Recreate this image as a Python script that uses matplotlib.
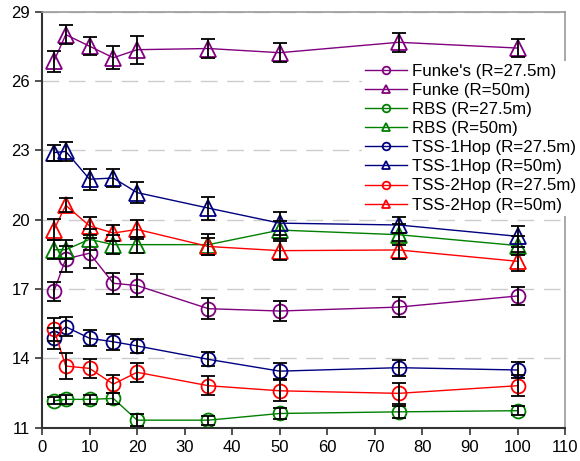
import matplotlib
matplotlib.use('Agg')
import matplotlib.pyplot as plt

plt.rcParams['font.family'] = ['Liberation Sans', 'DejaVu Sans']

# distances
x = [2.5, 5, 10, 15, 20, 35, 50, 75, 100]

# series values (mean) and error bar half-widths
funkes_275 = [16.9, 18.3, 18.55, 17.25, 17.15, 16.15, 16.05, 16.22, 16.7]
funkes_275_err = [0.4, 0.55, 0.65, 0.45, 0.5, 0.45, 0.45, 0.45, 0.4]
funke_50 = [26.85, 28.0, 27.5, 27.0, 27.35, 27.4, 27.22, 27.67, 27.42]
funke_50_err = [0.45, 0.4, 0.4, 0.5, 0.6, 0.4, 0.42, 0.42, 0.4]
rbs_275 = [12.17, 12.23, 12.23, 12.27, 11.33, 11.33, 11.62, 11.69, 11.74]
rbs_275_err = [0.15, 0.2, 0.2, 0.25, 0.25, 0.2, 0.25, 0.25, 0.2]
rbs_50 = [18.7, 18.7, 19.15, 18.92, 18.92, 18.92, 19.55, 19.35, 18.88]
rbs_50_err = [0.4, 0.4, 0.45, 0.4, 0.35, 0.45, 0.4, 0.45, 0.4]
tss1_275 = [14.87, 15.37, 14.87, 14.72, 14.54, 13.96, 13.45, 13.6, 13.5]
tss1_275_err = [0.45, 0.4, 0.35, 0.35, 0.3, 0.3, 0.35, 0.35, 0.35]
tss1_50 = [22.9, 22.95, 21.75, 21.8, 21.17, 20.5, 19.85, 19.77, 19.28]
tss1_50_err = [0.35, 0.4, 0.45, 0.4, 0.45, 0.5, 0.5, 0.35, 0.45]
tss2_275 = [15.26, 13.67, 13.57, 12.89, 13.4, 12.82, 12.6, 12.49, 12.82]
tss2_275_err = [0.5, 0.55, 0.4, 0.4, 0.4, 0.4, 0.45, 0.45, 0.45]
tss2_50 = [19.56, 20.62, 19.73, 19.42, 19.58, 18.84, 18.66, 18.69, 18.2]
tss2_50_err = [0.45, 0.3, 0.4, 0.35, 0.4, 0.35, 0.4, 0.4, 0.4]

series = [
    ("Funke's (R=27.5m)", funkes_275, funkes_275_err, '#800080', 'o'),
    ("Funke (R=50m)", funke_50, funke_50_err, '#800080', '^'),
    ("RBS (R=27.5m)", rbs_275, rbs_275_err, '#008000', 'o'),
    ("RBS (R=50m)", rbs_50, rbs_50_err, '#008000', '^'),
    ("TSS-1Hop (R=27.5m)", tss1_275, tss1_275_err, '#000080', 'o'),
    ("TSS-1Hop (R=50m)", tss1_50, tss1_50_err, '#000080', '^'),
    ("TSS-2Hop (R=27.5m)", tss2_275, tss2_275_err, '#ff0000', 'o'),
    ("TSS-2Hop (R=50m)", tss2_50, tss2_50_err, '#ff0000', '^'),
]

fig = plt.figure(figsize=(5.8, 4.61), dpi=100)
ax = fig.add_axes([0.0724, 0.072, 0.902, 0.903])

for label, y, err, color, marker in series:
    ms = 10 if marker == 'o' else 11
    ax.plot(x, y, color=color, lw=1, marker=marker, ms=ms,
            mfc='none', mec=color, mew=1.3, label=label, zorder=2)
    ax.errorbar(x, y, yerr=err, fmt='none', ecolor='black',
                elinewidth=1.3, capsize=5, capthick=1.3, zorder=3)

ax.set_xlim(0, 110)
ax.set_ylim(11, 29)
ax.set_xticks(range(0, 111, 10))
ax.set_yticks(range(11, 30, 3))
ax.tick_params(labelsize=12, length=5, width=1.2, color='#333333')
ax.yaxis.grid(True, ls=(0, (12, 7)), color='#cccccc', lw=1)
ax.set_axisbelow(True)

for s in ['left', 'bottom']:
    ax.spines[s].set_color('#333333')
    ax.spines[s].set_linewidth(1.5)
for s in ['top', 'right']:
    ax.spines[s].set_color('#999999')
    ax.spines[s].set_linewidth(1.2)

leg = ax.legend(loc='upper left', bbox_to_anchor=(0.611, 0.882),
                fontsize=12.2, frameon=True, edgecolor='none', framealpha=1,
                fancybox=False, markerscale=0.55, handlelength=2.5,
                handletextpad=0.3, labelspacing=0.24, borderpad=0.2,
                borderaxespad=0)

plt.savefig('out.png', dpi=100)
